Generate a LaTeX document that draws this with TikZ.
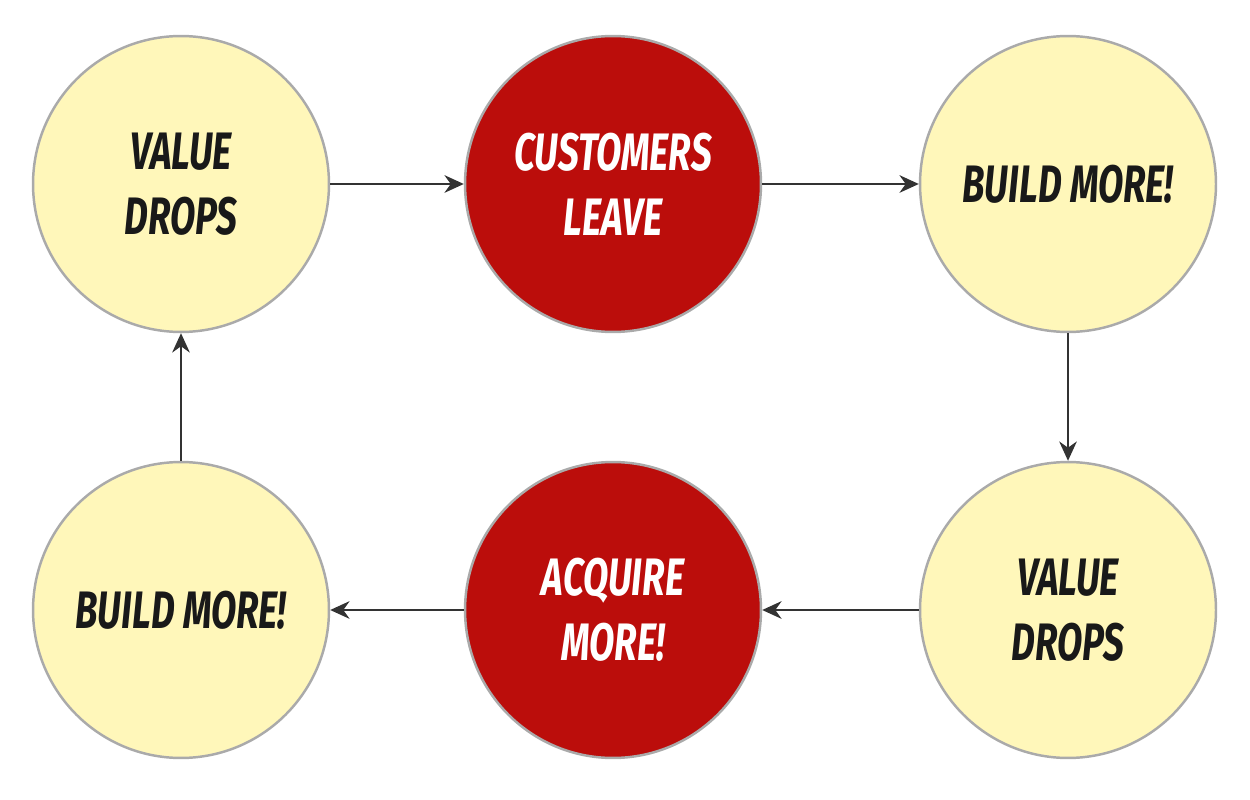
\documentclass[tikz,border=0pt]{standalone}
\usepackage{fontspec}
\newfontfamily\comicfont{Fira Sans}[FakeStretch=0.7]
\usetikzlibrary{arrows.meta}
\definecolor{paleyellow}{HTML}{FFF7BA}
\definecolor{alarmred}{HTML}{BB0D0B}
\definecolor{ringgray}{HTML}{AAAAAA}
\definecolor{inkgray}{HTML}{333333}
\begin{document}
\begin{tikzpicture}[x=0.02cm,y=-0.02cm,
	loopnode/.style={circle,draw=ringgray,line width=1.4pt,minimum size=5.92cm,inner sep=0pt,
		align=center,font=\comicfont\bfseries\itshape\fontsize{30}{37}\selectfont},
	calm/.style={loopnode,fill=paleyellow,text=black!90},
	alarm/.style={loopnode,fill=alarmred,text=white},
	flow/.style={draw=inkgray,line width=1.5pt,-{Stealth[length=11pt,width=10pt]}}]
	\useasboundingbox (0,0) rectangle (1250,800);

	\node[calm]  (valueA)   at (181,184)  {VALUE\\DROPS};
	\node[alarm] (leave)    at (613,184)  {CUSTOMERS\\LEAVE};
	\node[calm]  (buildA)   at (1068,184) {BUILD MORE!};
	\node[calm]  (valueB)   at (1068,610) {VALUE\\DROPS};
	\node[alarm] (acquire)  at (613,610)  {ACQUIRE\\MORE!};
	\node[calm]  (buildB)   at (181,610)  {BUILD MORE!};

	\draw[flow] (valueA) -- (leave);
	\draw[flow] (leave) -- (buildA);
	\draw[flow] (buildA) -- (valueB);
	\draw[flow] (valueB) -- (acquire);
	\draw[flow] (acquire) -- (buildB);
	\draw[flow] (buildB) -- (valueA);
\end{tikzpicture}
\end{document}
